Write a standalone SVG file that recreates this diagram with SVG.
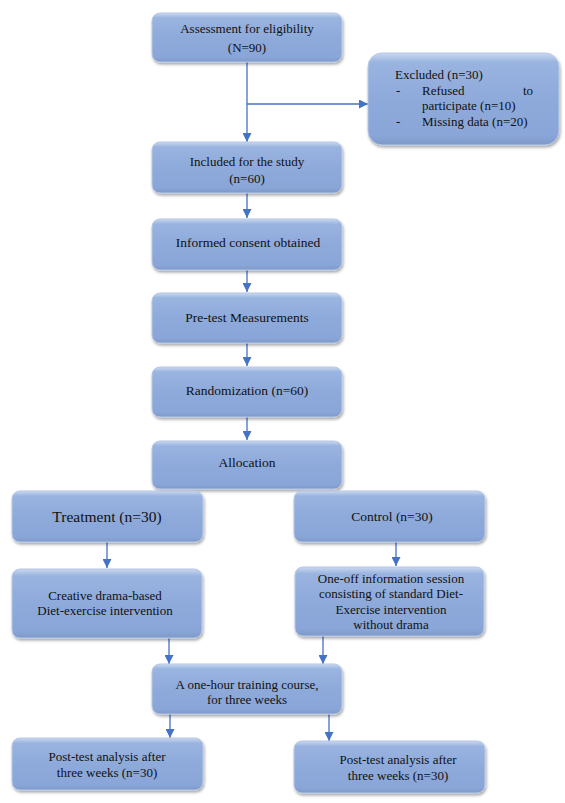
<svg xmlns="http://www.w3.org/2000/svg" width="565" height="803" viewBox="0 0 565 803">
<defs>
<linearGradient id="g" x1="0" y1="0" x2="0" y2="1">
<stop offset="0" stop-color="#c9d8f0"/>
<stop offset="0.1" stop-color="#9ab4e0"/>
<stop offset="0.5" stop-color="#8eaadb"/>
<stop offset="0.9" stop-color="#8aa6d8"/>
<stop offset="1" stop-color="#7d98c8"/>
</linearGradient>
<filter id="sh" x="-10%" y="-10%" width="125%" height="135%">
<feGaussianBlur in="SourceAlpha" stdDeviation="1.5"/>
<feOffset dx="1" dy="2" result="b"/>
<feComponentTransfer><feFuncA type="linear" slope="0.35"/></feComponentTransfer>
<feMerge><feMergeNode/><feMergeNode in="SourceGraphic"/></feMerge>
</filter>
<marker id="ah" viewBox="0 0 10 10" refX="10" refY="5" markerWidth="9" markerHeight="9" markerUnits="userSpaceOnUse" orient="auto">
<path d="M0,0 L10,5 L0,10 z" fill="#4472c4"/>
</marker>
</defs>
<style>
.box{fill:url(#g);stroke:#b7c8e6;stroke-width:1;filter:url(#sh)}
.t{font-family:'Liberation Serif','Times New Roman',serif;font-size:13px;fill:#111}
.c{text-anchor:middle}
.m{font-size:13.5px}
.big{font-size:15.5px}
.ln{stroke:#4472c4;stroke-width:1.3;fill:none}
.arr{marker-end:url(#ah)}
</style>
<g id="connectors">
<line class="ln" x1="247" y1="62" x2="247" y2="104"/>
<line class="ln arr" x1="247" y1="104" x2="247" y2="142"/>
<line class="ln arr" x1="247" y1="104" x2="368" y2="104"/>
<line class="ln arr" x1="247" y1="193" x2="247" y2="218"/>
<line class="ln arr" x1="247" y1="270" x2="247" y2="292"/>
<line class="ln arr" x1="247" y1="343" x2="247" y2="366"/>
<line class="ln arr" x1="247" y1="417" x2="247" y2="440"/>
<line class="ln arr" x1="107" y1="542" x2="107" y2="568"/>
<line class="ln arr" x1="396" y1="542" x2="396" y2="566"/>
<line class="ln arr" x1="169" y1="638" x2="169" y2="664"/>
<line class="ln arr" x1="323" y1="636" x2="323" y2="664"/>
<line class="ln arr" x1="170" y1="714" x2="170" y2="738"/>
<line class="ln arr" x1="329" y1="714" x2="329" y2="741"/>
</g>
<g class="t">
<g id="n1"><rect class="box" x="152" y="13" width="190" height="49" rx="8"/>
<text class="c" x="247" y="33">Assessment for eligibility</text><text class="c" x="247" y="52">(N=90)</text></g>
<g id="n2"><rect class="box" x="368" y="53" width="191" height="92" rx="14"/>
<text x="395" y="79">Excluded (n=30)</text>
<text x="396" y="95">-</text><text x="422" y="95">Refused</text><text x="523" y="95">to</text>
<text x="422" y="110">participate (n=10)</text>
<text x="396" y="126">-</text><text x="422" y="126">Missing  data (n=20)</text></g>
<g id="n3"><rect class="box" x="152" y="142" width="190" height="51" rx="8"/>
<text class="c" x="247" y="166">Included for the study</text><text class="c" x="247" y="183">(n=60)</text></g>
<g id="n4"><rect class="box" x="152" y="219" width="190" height="51" rx="8"/>
<text class="c m" x="248" y="247">Informed consent obtained</text></g>
<g id="n5"><rect class="box" x="152" y="293" width="190" height="50" rx="8"/>
<text class="c m" x="247" y="322">Pre-test Measurements</text></g>
<g id="n6"><rect class="box" x="152" y="367" width="190" height="50" rx="8"/>
<text class="c m" x="247" y="395">Randomization (n=60)</text></g>
<g id="n7"><rect class="box" x="152" y="441" width="190" height="48" rx="8"/>
<text class="c m" x="247" y="467">Allocation</text></g>
<g id="n8"><rect class="box" x="12" y="491" width="191" height="51" rx="8"/>
<text class="c big" x="107" y="522">Treatment (n=30)</text></g>
<g id="n9"><rect class="box" x="294" y="491" width="191" height="51" rx="8"/>
<text class="c m" x="392" y="521">Control (n=30)</text></g>
<g id="n10"><rect class="box" x="12" y="569" width="190" height="69" rx="8"/>
<text class="c" x="105" y="600">Creative drama-based</text><text class="c" x="105" y="615">Diet-exercise  intervention</text></g>
<g id="n11"><rect class="box" x="295" y="567" width="189" height="69" rx="8"/>
<text class="c" x="391" y="583">One-off information session</text>
<text class="c" x="391" y="598">consisting of standard Diet-</text>
<text class="c" x="391" y="614">Exercise intervention</text>
<text class="c" x="391" y="629">without drama</text></g>
<g id="n12"><rect class="box" x="152" y="664" width="190" height="50" rx="8"/>
<text class="c" x="247" y="689">A one-hour training course,</text><text class="c" x="247" y="704">for three weeks</text></g>
<g id="n13"><rect class="box" x="12" y="738" width="191" height="52" rx="8"/>
<text class="c" x="107" y="761">Post-test analysis after</text><text class="c" x="107" y="777">three weeks (n=30)</text></g>
<g id="n14"><rect class="box" x="294" y="741" width="191" height="52" rx="8"/>
<text class="c" x="398" y="764">Post-test analysis after</text><text class="c" x="398" y="780">three weeks (n=30)</text></g>
</g>
</svg>
